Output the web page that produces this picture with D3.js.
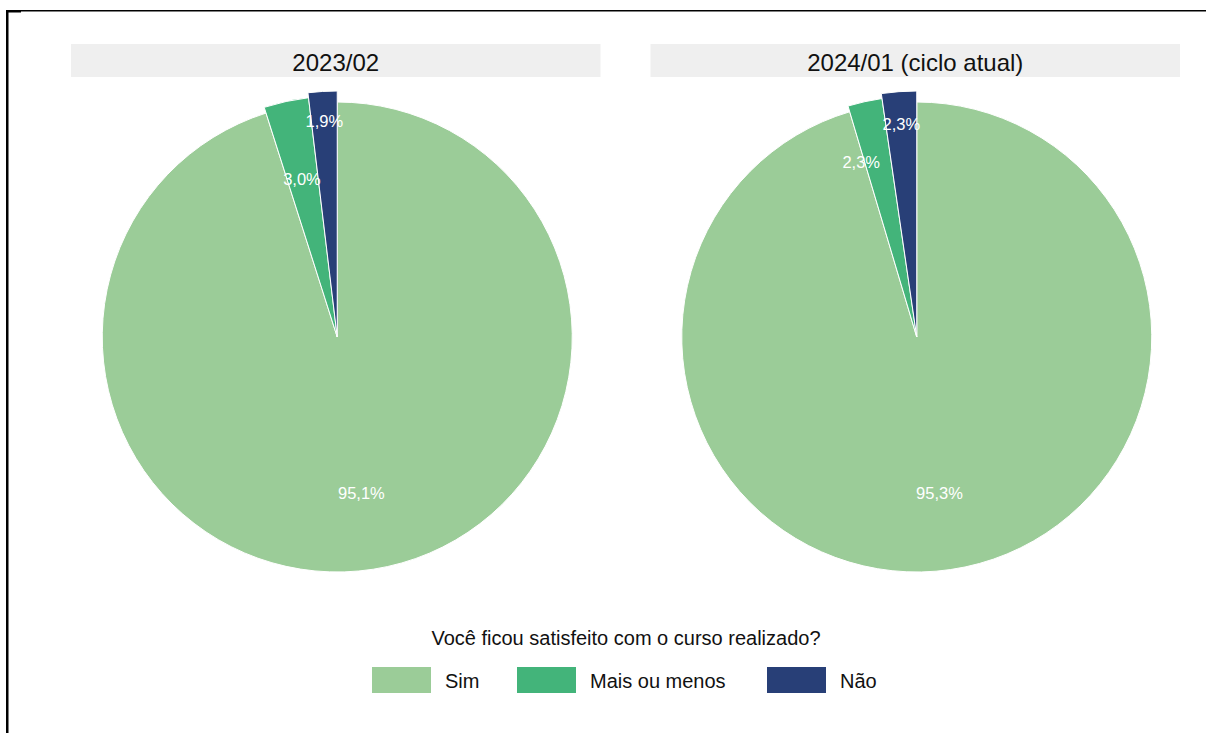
<!DOCTYPE html>
<html>
<head>
<meta charset="utf-8">
<script src="https://cdn.jsdelivr.net/npm/d3@7"></script>
<style>
  html, body { margin: 0; padding: 0; background: #fff; }
  svg { display: block; font-family: "Liberation Sans", Arial, sans-serif; }
</style>
</head>
<body>
<svg id="chart" width="1206" height="733"></svg>
<script>
// ---- data ----
const categories = ["Sim", "Mais ou menos", "Não"];
const panels = ["2023/02", "2024/01 (ciclo atual)"];
const values2023 = [95.1, 3.0, 1.9];
const values2024 = [95.3, 2.3, 2.3];
const legendTitle = "Você ficou satisfeito com o curso realizado?";
const colors = ["#9BCC98", "#43B47A", "#283F77"];

// ---- layout ----
const svg = d3.select("#chart");
const W = 1206, H = 733;

// frame (partial border)
svg.append("rect").attr("x", 6).attr("y", 10).attr("width", W - 6).attr("height", 1.5).attr("fill", "#000");
svg.append("rect").attr("x", 6).attr("y", 10).attr("width", 2.5).attr("height", H - 10).attr("fill", "#000");
svg.append("rect").attr("x", 6).attr("y", 10).attr("width", 15).attr("height", 2.5).attr("fill", "#000");

const panelX = d3.scaleBand().domain(panels).range([71, 1180]).paddingInner(50 / 579 * 1.0);
const color = d3.scaleOrdinal().domain(categories).range(colors);

const R = 235;
const outerR = { "Sim": R, "Mais ou menos": R + 6, "Não": R + 11 };
// label anchors: [fraction of angular span, fraction of radius]
const labelPos = {
  "2023/02": { "Sim": [0.5, 0.67], "Mais ou menos": [0.47, 0.69], "Não": [0.5, 0.92] },
  "2024/01 (ciclo atual)": { "Sim": [0.5, 0.67], "Mais ou menos": [-0.13, 0.78], "Não": [0.5, 0.91] }
};

const pie = d3.pie().sort(null).value(d => d.value).startAngle(0).endAngle(2 * Math.PI);
const fmt = v => d3.format(".1f")(v).replace(".", ",") + "%";

const datasets = [values2023, values2024];

panels.forEach((p, i) => {
  const x0 = panelX(p), bw = panelX.bandwidth();
  const cx = x0 + bw / 2 + 1.5, cy = 337;
  // strip
  svg.append("rect").attr("x", x0).attr("y", 44).attr("width", bw).attr("height", 33).attr("fill", "#EFEFEF");
  svg.append("text").attr("x", x0 + bw / 2).attr("y", 62).attr("text-anchor", "middle")
    .attr("dominant-baseline", "central").attr("font-size", 24).attr("fill", "#111").text(p);

  const data = categories.map((c, k) => ({ cat: c, value: datasets[i][k] }));
  const arcs = pie(data);
  const g = svg.append("g").attr("transform", `translate(${cx},${cy})`);
  g.selectAll("path").data(arcs).join("path")
    .attr("d", d => d3.arc().innerRadius(0).outerRadius(outerR[d.data.cat])(d))
    .attr("fill", d => color(d.data.cat))
    .attr("stroke", "#fff").attr("stroke-width", 1);
  g.selectAll("text").data(arcs).join("text")
    .attr("transform", d => {
      const [t, rf] = labelPos[p][d.data.cat];
      const a = d.startAngle + t * (d.endAngle - d.startAngle);
      const r = rf * R;
      return `translate(${r * Math.sin(a)},${-r * Math.cos(a)})`;
    })
    .attr("text-anchor", "middle").attr("dominant-baseline", "central")
    .attr("font-size", 16.5).attr("fill", "#fff")
    .text(d => fmt(d.data.value));
});

// legend
svg.append("text").attr("x", 626).attr("y", 638).attr("text-anchor", "middle")
  .attr("dominant-baseline", "central").attr("font-size", 20).attr("fill", "#111").text(legendTitle);

const keyX = { "Sim": 372, "Mais ou menos": 517, "Não": 767 };
const leg = svg.append("g");
categories.forEach(c => {
  leg.append("rect").attr("x", keyX[c]).attr("y", 667).attr("width", 59).attr("height", 26)
    .attr("fill", color(c));
  leg.append("text").attr("x", keyX[c] + 73).attr("y", 681).attr("dominant-baseline", "central")
    .attr("font-size", 20).attr("fill", "#111").text(c);
});
</script>
</body>
</html>
